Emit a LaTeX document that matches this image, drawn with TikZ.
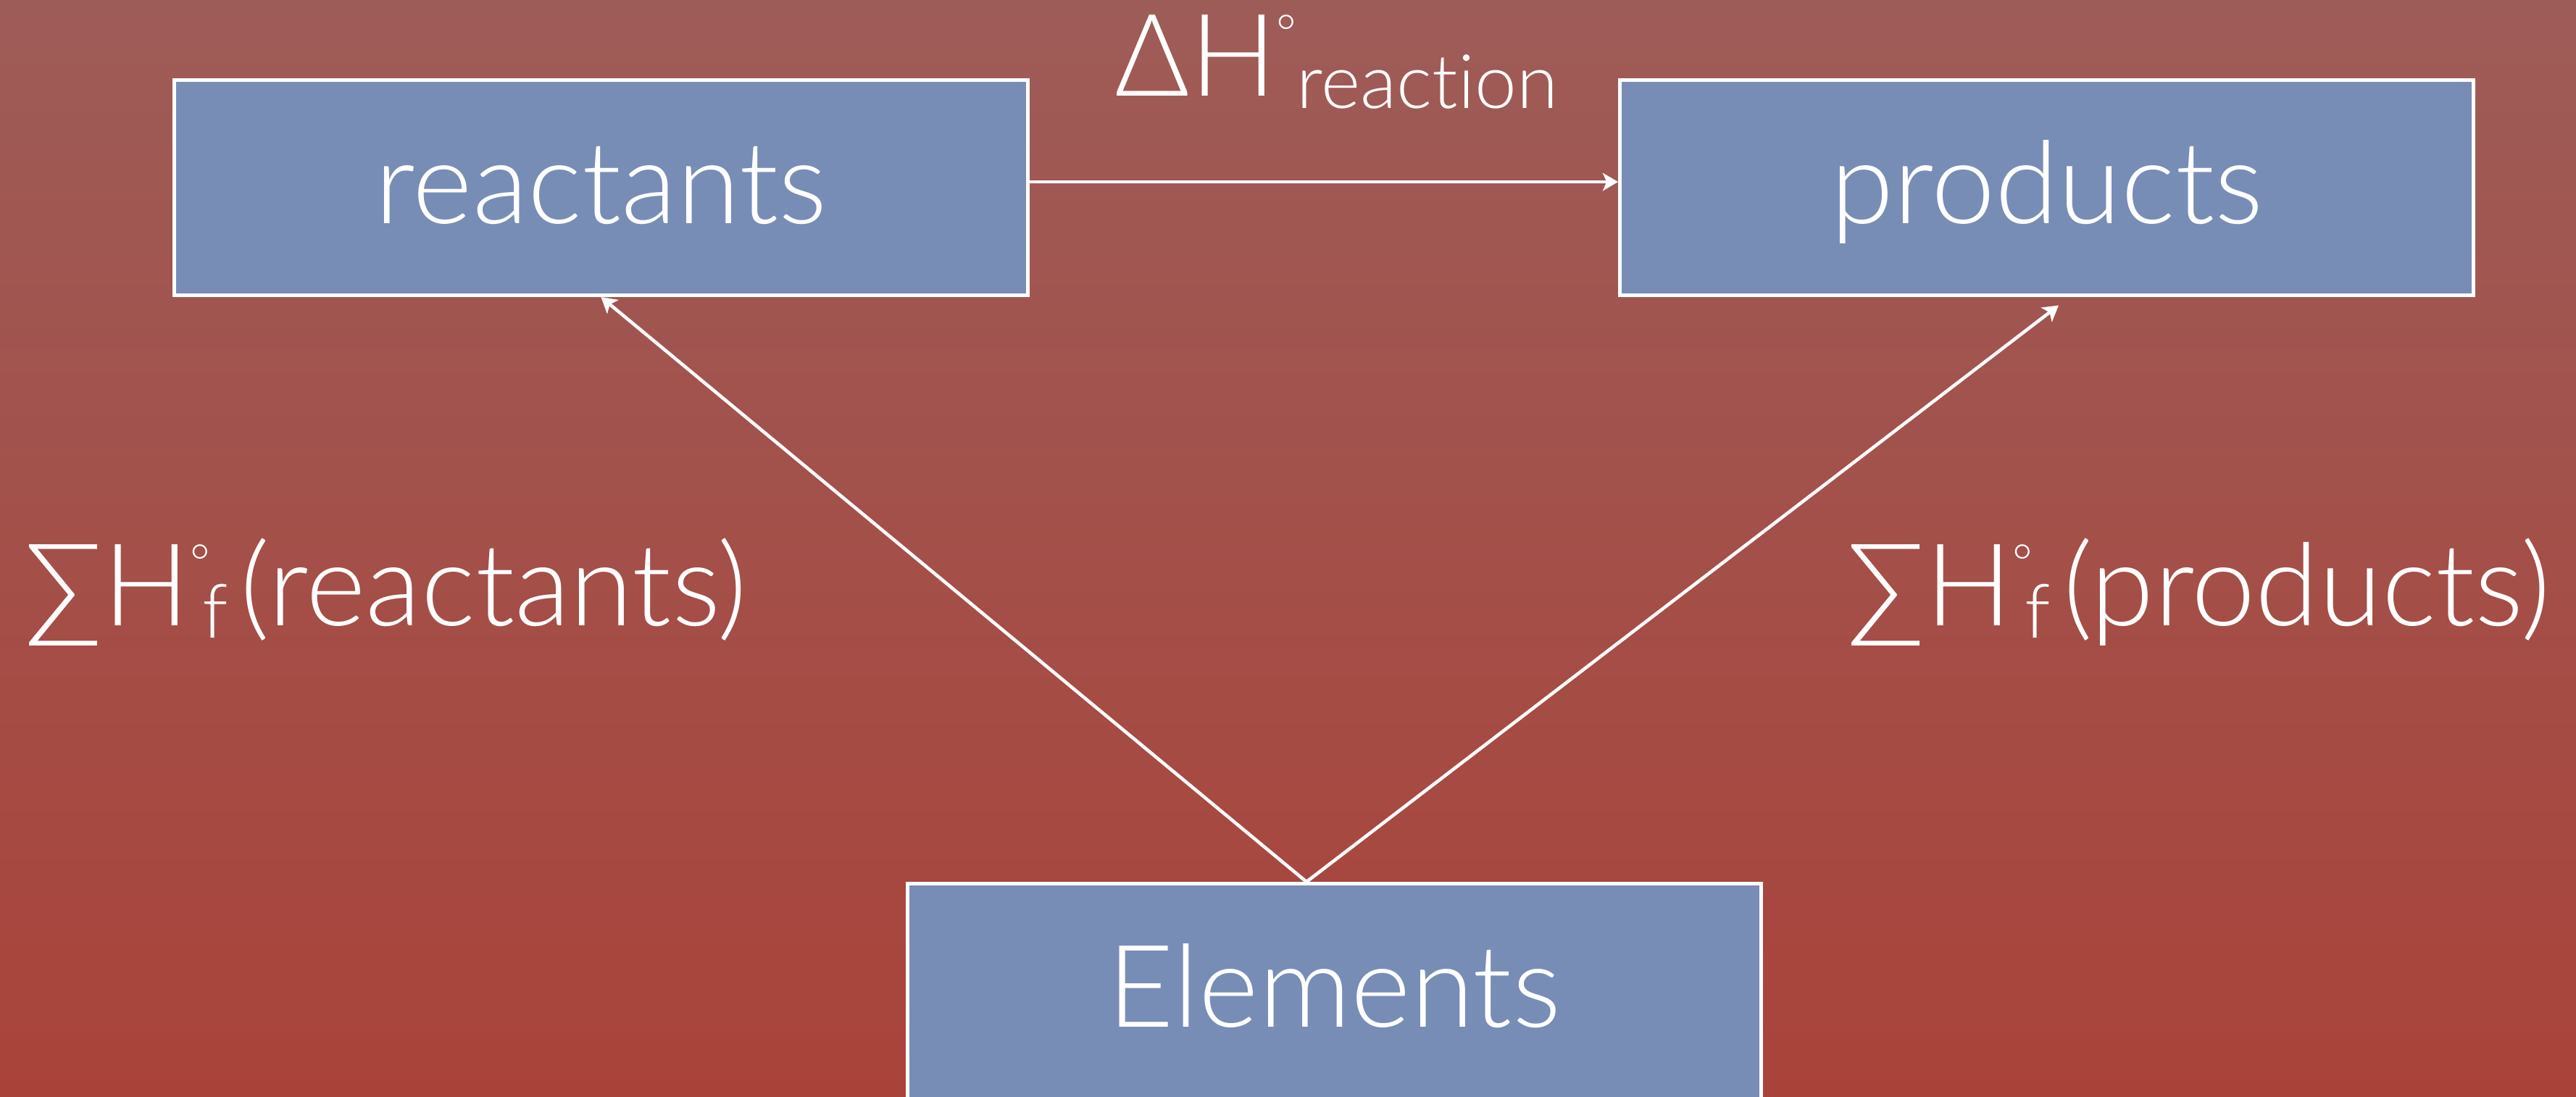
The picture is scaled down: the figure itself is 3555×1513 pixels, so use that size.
\documentclass[tikz,border=0pt]{standalone}
\usepackage{fontspec}
\setmainfont{Lato Light}[Ligatures={NoCommon,NoRare}]
\usetikzlibrary{arrows.meta}
\definecolor{bgtop}{RGB}{158,92,88}
\definecolor{bgbot}{RGB}{169,67,58}
\definecolor{boxblue}{RGB}{120,141,181}
\newcommand\mydeg{\raisebox{18pt}{\fontsize{19}{19}\selectfont °}}
\newcommand\mysub[1]{\raisebox{-5pt}{\fontsize{29.5}{29.5}\selectfont #1}}
\tikzset{
  box/.style={draw=white, line width=1.42pt, fill=boxblue, minimum width=117.8mm,
    minimum height=29.7mm, inner sep=0pt},
  lbl/.style={text=white, inner sep=0pt, font=\fontsize{45}{45}\selectfont},
  conn/.style={draw=white, line width=1.3pt, -{Stealth[length=6pt,width=7pt,inset=1.5pt]}},
}
\begin{document}
\begin{tikzpicture}[x=0.1mm,y=-0.1mm]
\shade[top color=bgtop,bottom color=bgbot] (0,0) rectangle (3555,1513);
\useasboundingbox (0,0) rectangle (3555,1513);
\node[box] (r) at (829.5,259) {};
\node[box] (p) at (2824.5,259) {};
\node[box] (e) at (1841.5,1368) {};
\node[lbl, anchor=base] (rt) at (829.5,308) {reactants};
\node[lbl, anchor=base] (pt) at (2824.5,308) {products};
\node[lbl, anchor=base] (et) at (1841.5,1417) {Elements};
\node[lbl, anchor=base west] (dh) at (1538,132) {ΔH\mydeg\mysub{reaction}};
\node[lbl, anchor=base west] (sr) at (34,863) {∑H\mydeg\kern-3pt\mysub{f}\hspace{5pt}(reactants)};
\node[lbl, anchor=base west] (sp) at (2549,863) {∑H\mydeg\kern-3pt\mysub{f}\hspace{5pt}(products)};
\draw[conn] ([yshift=0.8mm]r.east) -- ([yshift=0.8mm]p.west);
\draw[conn] ([xshift=-3.85mm]e.north) -- (r.south);
\draw[conn] ([xshift=-3.85mm]e.north) -- ([xshift=1.65mm,yshift=-1.15mm]p.south);
\end{tikzpicture}
\end{document}
